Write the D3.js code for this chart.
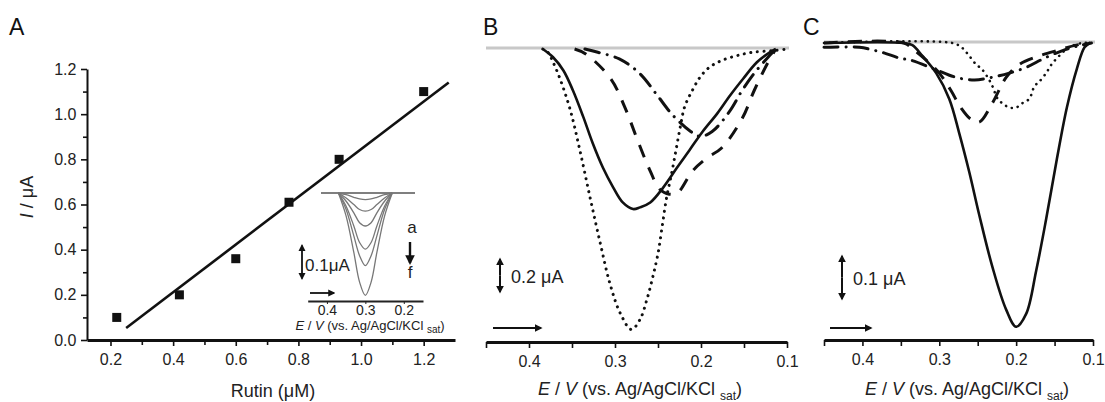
<!DOCTYPE html>
<html lang="en">
<head>
<meta charset="UTF-8">
<title>Rutin calibration and DPV curves</title>
<script src="https://d3js.org/d3.v7.min.js"></script>
<style>
  body { margin: 0; background: #fff; }
  svg { font-family: "Liberation Sans", Arial, sans-serif; }
  .tick text { fill: #222; }
</style>
</head>
<body>
<div id="chart"></div>
<script>

// ---- panel A : calibration ----
var rutin = [0.22, 0.42, 0.60, 0.77, 0.93, 1.20];
var peakCurrent = [0.10, 0.20, 0.36, 0.61, 0.80, 1.10];
var fitX = [0.25, 1.28];
var fitY = [0.053, 1.14];
var aTicksX = [0.2, 0.4, 0.6, 0.8, 1.0, 1.2];
var aMinorX = [0.3, 0.5, 0.7, 0.9, 1.1];
var aTicksY = [0.0, 0.2, 0.4, 0.6, 0.8, 1.0, 1.2];
var aMinorY = [0.1, 0.3, 0.5, 0.7, 0.9, 1.1];

// inset of A: six DPV curves a..f
var insetE = [0.37, 0.35, 0.33, 0.315, 0.30, 0.285, 0.27, 0.25, 0.23];
var insetA = [0, -0.005, -0.013, -0.018, -0.02, -0.018, -0.013, -0.005, 0];
var insetB = [0, -0.015, -0.035, -0.05, -0.055, -0.05, -0.035, -0.015, 0];
var insetC = [0, -0.025, -0.06, -0.09, -0.10, -0.09, -0.06, -0.025, 0];
var insetD = [0, -0.04, -0.10, -0.15, -0.17, -0.15, -0.10, -0.04, 0];
var insetE2 = [0, -0.05, -0.13, -0.19, -0.22, -0.19, -0.13, -0.05, 0];
var insetF = [0, -0.07, -0.18, -0.27, -0.31, -0.27, -0.18, -0.07, 0];
var insetTicks = [0.4, 0.3, 0.2];

// ---- panel B ----
var bSolidE = [0.384, 0.372, 0.360, 0.349, 0.337, 0.326, 0.314, 0.302, 0.291, 0.279, 0.271, 0.259, 0.244, 0.228, 0.213, 0.198, 0.181, 0.166, 0.151, 0.135, 0.120, 0.113];
var bSolidI = [0, -0.05, -0.13, -0.25, -0.41, -0.57, -0.72, -0.84, -0.93, -0.97, -0.96, -0.93, -0.84, -0.72, -0.61, -0.50, -0.39, -0.28, -0.18, -0.08, -0.02, 0];
var bDotE = [0.384, 0.378, 0.372, 0.364, 0.352, 0.341, 0.329, 0.317, 0.306, 0.294, 0.281, 0.271, 0.263, 0.256, 0.250, 0.245, 0.240, 0.234, 0.229, 0.224, 0.219, 0.210, 0.201, 0.190, 0.176, 0.158, 0.140, 0.116, 0.100];
var bDotI = [0, -0.02, -0.08, -0.18, -0.37, -0.61, -0.90, -1.18, -1.42, -1.60, -1.70, -1.64, -1.52, -1.38, -1.24, -1.07, -0.90, -0.75, -0.61, -0.47, -0.35, -0.25, -0.17, -0.11, -0.07, -0.04, -0.02, -0.01, 0];
var bDashE = [0.347, 0.334, 0.305, 0.288, 0.274, 0.259, 0.248, 0.237, 0.227, 0.210, 0.193, 0.176, 0.152, 0.138, 0.122, 0.113];
var bDashI = [0, -0.03, -0.18, -0.36, -0.55, -0.74, -0.85, -0.88, -0.87, -0.74, -0.66, -0.60, -0.42, -0.25, -0.08, 0];
var bDashDotE = [0.335, 0.320, 0.295, 0.271, 0.251, 0.233, 0.212, 0.201, 0.187, 0.167, 0.152, 0.137, 0.122, 0.113];
var bDashDotI = [0, -0.02, -0.06, -0.15, -0.28, -0.40, -0.50, -0.53, -0.50, -0.38, -0.25, -0.14, -0.05, 0];

// ---- panel C ----
var cSolidE = [0.45, 0.346, 0.335, 0.322, 0.304, 0.287, 0.274, 0.261, 0.248, 0.231, 0.213, 0.200, 0.187, 0.174, 0.161, 0.147, 0.134, 0.121, 0.111, 0.104];
var cSolidI = [0, 0, -0.005, -0.03, -0.07, -0.13, -0.21, -0.30, -0.40, -0.52, -0.62, -0.66, -0.63, -0.53, -0.41, -0.27, -0.15, -0.06, -0.01, 0];
var cDotE = [0.45, 0.283, 0.271, 0.261, 0.252, 0.245, 0.237, 0.231, 0.224, 0.218, 0.209, 0.200, 0.192, 0.183, 0.176, 0.170, 0.161, 0.154, 0.144, 0.131, 0.114, 0.105];
var cDotI = [0, 0, -0.01, -0.03, -0.05, -0.06, -0.08, -0.10, -0.13, -0.14, -0.15, -0.15, -0.14, -0.13, -0.10, -0.09, -0.07, -0.05, -0.03, -0.01, 0, 0];
var cDashE = [0.45, 0.346, 0.333, 0.317, 0.300, 0.285, 0.272, 0.259, 0.248, 0.231, 0.213, 0.196, 0.170, 0.144, 0.122, 0.104];
var cDashI = [0, 0, -0.016, -0.04, -0.07, -0.11, -0.15, -0.177, -0.184, -0.14, -0.08, -0.05, -0.03, -0.016, -0.005, 0];
var cDashDotE = [0.45, 0.404, 0.387, 0.372, 0.352, 0.337, 0.307, 0.278, 0.254, 0.232, 0.209, 0.186, 0.163, 0.137, 0.115, 0.102];
var cDashDotI = [-0.01, -0.01, -0.016, -0.023, -0.035, -0.04, -0.06, -0.08, -0.086, -0.08, -0.07, -0.056, -0.035, -0.016, -0.005, 0];

var potTicks = [0.4, 0.3, 0.2, 0.1];
var potMinor = [0.45, 0.35, 0.25, 0.15];

var width = 1105, height = 402;

var svg = d3.select("#chart").append("svg")
    .attr("width", width)
    .attr("height", height);

var defs = svg.append("defs");
defs.append("marker")
    .attr("id", "arr")
    .attr("viewBox", "0 0 10 10")
    .attr("refX", 8).attr("refY", 5)
    .attr("markerWidth", 4).attr("markerHeight", 4)
    .attr("orient", "auto-start-reverse")
  .append("path")
    .attr("d", "M0,0 L10,5 L0,10 z")
    .attr("fill", "#111");

function zip(a, b) { return a.map(function(d, i) { return [d, b[i]]; }); }

function arrow(x1, y1, x2, y2, w) {
  svg.append("line")
      .attr("x1", x1).attr("y1", y1).attr("x2", x2).attr("y2", y2)
      .attr("stroke", "#111").attr("stroke-width", w || 2)
      .attr("marker-end", "url(#arr)");
}

function styleAxis(g, w) {
  g.select(".domain").attr("stroke", "#111").attr("stroke-width", w);
  g.selectAll(".tick line").attr("stroke", "#111").attr("stroke-width", 1.6);
  g.selectAll(".tick text").attr("font-size", 16);
}

function panelLabel(t, x) {
  svg.append("text").attr("x", x).attr("y", 35)
      .attr("font-size", 23).attr("fill", "#111").text(t);
}

function eLabel(x, y, size, sub) {
  var t = svg.append("text").attr("x", x).attr("y", y)
      .attr("font-size", size).attr("fill", "#222")
      .attr("text-anchor", "middle");
  t.append("tspan").attr("font-style", "italic").text("E");
  t.append("tspan").text(" / ");
  t.append("tspan").attr("font-style", "italic").text("V");
  t.append("tspan").text(" (vs. Ag/AgCl/KCl ");
  t.append("tspan").attr("font-size", sub).attr("dy", size * 0.25).text("sat");
  t.append("tspan").attr("dy", -size * 0.25).text(")");
}

// ================= Panel A =================
panelLabel("A", 9);

var xA = d3.scaleLinear().domain([0.125, 1.30]).range([87, 455]);
var yA = d3.scaleLinear().domain([0, 1.2]).range([340, 69]);

var gxA = svg.append("g").attr("transform", "translate(0,340)")
    .call(d3.axisBottom(xA).tickValues(aTicksX).tickFormat(d3.format(".1f")).tickSize(6).tickSizeOuter(0));
styleAxis(gxA, 3);
gxA.selectAll(".tick text").attr("dy", "1.0em");
svg.append("g").attr("transform", "translate(0,340)")
    .call(d3.axisBottom(xA).tickValues(aMinorX).tickFormat("").tickSize(5).tickSizeOuter(0))
    .call(function(g) { g.select(".domain").remove(); g.selectAll("line").attr("stroke", "#111").attr("stroke-width", 1.6); });

var gyA = svg.append("g").attr("transform", "translate(87,0)")
    .call(d3.axisLeft(yA).tickValues(aTicksY).tickFormat(d3.format(".1f")).tickSize(6).tickSizeOuter(0));
styleAxis(gyA, 2);
gyA.selectAll(".tick text").attr("dx", "-0.1em");
svg.append("g").attr("transform", "translate(87,0)")
    .call(d3.axisLeft(yA).tickValues(aMinorY).tickFormat("").tickSize(4).tickSizeOuter(0))
    .call(function(g) { g.select(".domain").remove(); g.selectAll("line").attr("stroke", "#111").attr("stroke-width", 1.6); });

svg.append("path")
    .datum(zip(fitX, fitY))
    .attr("d", d3.line().x(function(d) { return xA(d[0]); }).y(function(d) { return yA(d[1]); }))
    .attr("fill", "none").attr("stroke", "#111").attr("stroke-width", 2.6);

svg.selectAll(".pt")
    .data(zip(rutin, peakCurrent))
  .enter().append("rect")
    .attr("class", "pt")
    .attr("x", function(d) { return xA(d[0]) - 4.5; })
    .attr("y", function(d) { return yA(d[1]) - 4.5; })
    .attr("width", 9).attr("height", 9)
    .attr("fill", "#111");

var yl = svg.append("text")
    .attr("transform", "translate(33,197) rotate(-90)")
    .attr("text-anchor", "middle").attr("font-size", 18).attr("fill", "#222");
yl.append("tspan").attr("font-style", "italic").text("I");
yl.append("tspan").text(" / \u03bcA");

svg.append("text").attr("x", 273).attr("y", 397)
    .attr("text-anchor", "middle").attr("font-size", 18).attr("fill", "#222")
    .text("Rutin (\u03bcM)");

// inset
var xI = d3.scaleLinear().domain([0.45, 0.15]).range([307.7, 423]);
var yI = d3.scaleLinear().domain([0, -0.1]).range([193, 226]);

svg.append("line").attr("x1", 321).attr("x2", 415).attr("y1", 193).attr("y2", 193)
    .attr("stroke", "#555").attr("stroke-width", 1.5);

var insetLine = d3.line()
    .x(function(d) { return xI(d[0]); })
    .y(function(d) { return yI(d[1]); })
    .curve(d3.curveCatmullRom);

[insetA, insetB, insetC, insetD, insetE2, insetF].forEach(function(s) {
  svg.append("path").datum(zip(insetE, s))
      .attr("d", insetLine)
      .attr("fill", "none").attr("stroke", "#777").attr("stroke-width", 1.3);
});

var gxI = svg.append("g").attr("transform", "translate(0,301)")
    .call(d3.axisBottom(xI).tickValues(insetTicks).tickFormat(d3.format(".1f")).tickSize(3).tickSizeOuter(0));
gxI.select(".domain").attr("stroke", "#222").attr("stroke-width", 2);
gxI.selectAll(".tick line").attr("stroke", "#222");
gxI.selectAll(".tick text").attr("font-size", 14).attr("dy", "0.6em");

eLabel(370, 330, 13, 10);

// 0.1 uA bar in the inset
var iHalf = (yI(-0.1) - yI(0)) / 2;
arrow(302, 262, 302, 262 - iHalf, 1.8);
arrow(302, 262, 302, 262 + iHalf, 1.8);
svg.append("text").attr("x", 305).attr("y", 271).attr("font-size", 17).attr("fill", "#222").text("0.1\u03bcA");
arrow(310, 293, 334, 293, 1.8);
svg.append("text").attr("x", 412).attr("y", 233).attr("text-anchor", "middle").attr("font-size", 17).attr("fill", "#222").text("a");
arrow(410, 242, 410, 263, 2.4);
svg.append("text").attr("x", 410).attr("y", 278).attr("text-anchor", "middle").attr("font-size", 17).attr("fill", "#222").text("f");

// ================= Panels B and C =================
function potPanel(opt) {
  var x = d3.scaleLinear().domain([0.45, 0.1]).range(opt.xr);
  var y = d3.scaleLinear().domain([0, -1]).range([opt.y0, opt.y0 + opt.pxPerUA]);

  panelLabel(opt.label, opt.labelX);

  svg.append("line").attr("x1", opt.xr[0]).attr("x2", opt.xr[1] + 2)
      .attr("y1", opt.y0 - 1).attr("y2", opt.y0 - 1)
      .attr("stroke", "#c8c8c8").attr("stroke-width", 3);

  var line = d3.line()
      .x(function(d) { return x(d[0]); })
      .y(function(d) { return y(d[1]); })
      .curve(d3.curveCatmullRom);

  opt.curves.forEach(function(c) {
    svg.append("path").datum(zip(c.e, c.i))
        .attr("d", line)
        .attr("fill", "none").attr("stroke", "#111")
        .attr("stroke-width", c.w)
        .attr("stroke-linecap", c.cap || "butt")
        .attr("stroke-dasharray", c.dash || null);
  });

  var gx = svg.append("g").attr("transform", "translate(0," + opt.axisY + ")")
      .call(d3.axisBottom(x).tickValues(potTicks).tickFormat(d3.format(".1f")).tickSize(6).tickSizeOuter(0));
  styleAxis(gx, 3);
  gx.selectAll(".tick text").attr("dy", "1.0em");
  svg.append("g").attr("transform", "translate(0," + opt.axisY + ")")
      .call(d3.axisBottom(x).tickValues(potMinor).tickFormat("").tickSize(6).tickSizeOuter(0))
      .call(function(g) { g.select(".domain").remove(); g.selectAll("line").attr("stroke", "#111").attr("stroke-width", 1.6); });

  eLabel(opt.labelMid, 395, 18, 12);

  // scale bar
  var barTop = opt.barTop, barBot = opt.barTop + (y(-opt.bar) - y(0));
  var mid = (barTop + barBot) / 2;
  arrow(opt.barX, mid, opt.barX, barTop, 2);
  arrow(opt.barX, mid, opt.barX, barBot, 2);
  svg.append("text").attr("x", opt.barX + 11).attr("y", mid + 7)
      .attr("font-size", 18).attr("fill", "#222").text(opt.bar.toFixed(1) + " \u03bcA");
  arrow(opt.arrX[0], 328, opt.arrX[1], 328, 2);
}

potPanel({
  label: "B", labelX: 483, xr: [486, 787], y0: 49, pxPerUA: 165, axisY: 342, labelMid: 640,
  bar: 0.2, barX: 500, barTop: 259, arrX: [493, 541],
  curves: [
    {e: bDotE, i: bDotI, w: 3, dash: "0.1 6.5", cap: "round"},
    {e: bDashE, i: bDashI, w: 3, dash: "13 11"},
    {e: bDashDotE, i: bDashDotI, w: 3, dash: "15 8 0.1 8", cap: "round"},
    {e: bSolidE, i: bSolidI, w: 2.6}
  ]
});

potPanel({
  label: "C", labelX: 803, xr: [824, 1093], y0: 43, pxPerUA: 430, axisY: 340, labelMid: 967,
  bar: 0.1, barX: 842, barTop: 256, arrX: [830, 871],
  curves: [
    {e: cDotE, i: cDotI, w: 2.6, dash: "0.1 6", cap: "round"},
    {e: cDashE, i: cDashI, w: 3, dash: "14 10"},
    {e: cDashDotE, i: cDashDotI, w: 3, dash: "14 8 0.1 8", cap: "round"},
    {e: cSolidE, i: cSolidI, w: 2.6}
  ]
});

</script>
</body>
</html>
